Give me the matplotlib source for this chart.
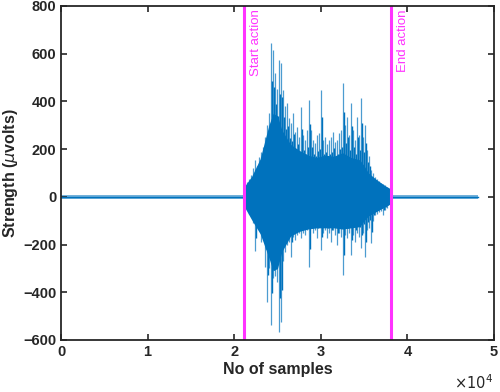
import matplotlib
matplotlib.use('Agg')
import matplotlib.pyplot as plt
import numpy as np
from matplotlib.ticker import FuncFormatter

plt.rcParams['font.family'] = ['Liberation Sans', 'DejaVu Sans']

# action markers (sample index)
start_action = 21100
end_action = 38100
signal_end = 48100
baseline_amp = 9

# dense core of the burst (sample, upper, lower)
core_x = [21200, 21300, 22000, 23000, 24000, 24500, 25000, 25500, 26500, 27500,
          28500, 29500, 30500, 31500, 32500, 33500, 34500, 35000, 35500, 36500,
          37500, 38000, 38100]
core_hi = [0, 50, 85, 160, 300, 350, 340, 280, 220, 195,
           175, 165, 175, 170, 185, 165, 155, 130, 100, 70,
           45, 35, 0]
core_lo = [0, -50, -95, -155, -255, -310, -300, -230, -165, -145,
           -135, -130, -130, -130, -135, -130, -125, -100, -80, -60,
           -40, -30, 0]

# peak excursions, read every ~231 samples from 21250 onward
burst_start = 21250
burst_step = 231
burst_hi = [40, 64, 75, 90, 120, 155, 130, 169, 190, 210,
            252, 300, 351, 646, 616, 519, 450, 574, 560, 448,
            380, 394, 330, 310, 352, 270, 293, 250, 377, 260,
            238, 280, 406, 280, 240, 226, 259, 267, 448, 240,
            251, 220, 238, 250, 272, 230, 240, 267, 280, 477,
            300, 335, 260, 394, 280, 240, 335, 260, 414, 250,
            301, 197, 170, 113, 100, 84, 75, 65, 58, 55,
            50, 42, 30]
burst_lo = [-40, -47, -70, -75, -110, -229, -120, -131, -188, -170,
            -292, -439, -300, -537, -340, -330, -355, -565, -523, -271,
            -230, -202, -190, -251, -170, -180, -160, -150, -172, -150,
            -160, -140, -292, -131, -150, -140, -172, -125, -222, -150,
            -140, -172, -150, -188, -140, -160, -201, -150, -170, -327,
            -160, -172, -150, -243, -160, -188, -150, -170, -215, -150,
            -251, -140, -130, -194, -100, -75, -70, -65, -60, -75,
            -55, -47, -30]

blue = '#0072BD'
magenta = '#FF33FF'

burst_x = burst_start + burst_step * np.arange(len(burst_hi))

fig = plt.figure(figsize=(5.0, 3.92), dpi=100)
ax = fig.add_axes([0.122, 0.1327, 0.866, 0.852])

# resting baseline before and after the action
for x0, x1 in [(0, start_action), (end_action, signal_end)]:
    ax.fill_between([x0, x1], [-baseline_amp] * 2, [baseline_amp] * 2,
                    color=blue, alpha=0.55, linewidth=0)
    ax.plot([x0, x1], [0, 0], color=blue, linewidth=1.0)

# burst
ax.fill_between(core_x, core_lo, core_hi, color=blue, linewidth=0)
ax.vlines(burst_x, burst_lo, burst_hi, color=blue, linewidth=0.9, alpha=0.7)
ax.vlines(burst_x + burst_step / 2, np.array(burst_lo) * 0.75,
          np.array(burst_hi) * 0.75, color=blue, linewidth=1.0)

ax.axvline(start_action, color=magenta, linewidth=2.2)
ax.axvline(end_action, color=magenta, linewidth=2.2)
ax.text(start_action + 700, 785, 'Start action', rotation=90, color=magenta,
        fontsize=9.5, ha='left', va='top')
ax.text(end_action + 700, 785, 'End action', rotation=90, color=magenta,
        fontsize=9.5, ha='left', va='top')

ax.set_xlim(0, 50000)
ax.set_ylim(-600, 800)
ax.set_xticks([0, 10000, 20000, 30000, 40000, 50000])
ax.set_yticks(range(-600, 801, 200))
ax.xaxis.set_major_formatter(FuncFormatter(lambda v, p: f'{v / 1e4:g}'))
ax.tick_params(direction='in', top=True, right=True, length=4, width=1.2,
               color='#262626', labelsize=10.5, labelcolor='#262626')
for lab in ax.get_xticklabels() + ax.get_yticklabels():
    lab.set_fontweight('bold')
for sp in ax.spines.values():
    sp.set_color('#262626')
    sp.set_linewidth(1.3)

ax.set_xlabel('No of samples', fontsize=11.5, fontweight='bold', color='#262626',
              labelpad=2)
ax.set_ylabel('Strength ($\\mu$volts)', fontsize=11.5, fontweight='bold',
              color='#262626', labelpad=2)
fig.text(0.985, 0.0, '$\\times10^4$', ha='right', va='bottom', fontsize=10.5,
         color='#262626')

fig.savefig('out.png', dpi=100)
plt.close(fig)
